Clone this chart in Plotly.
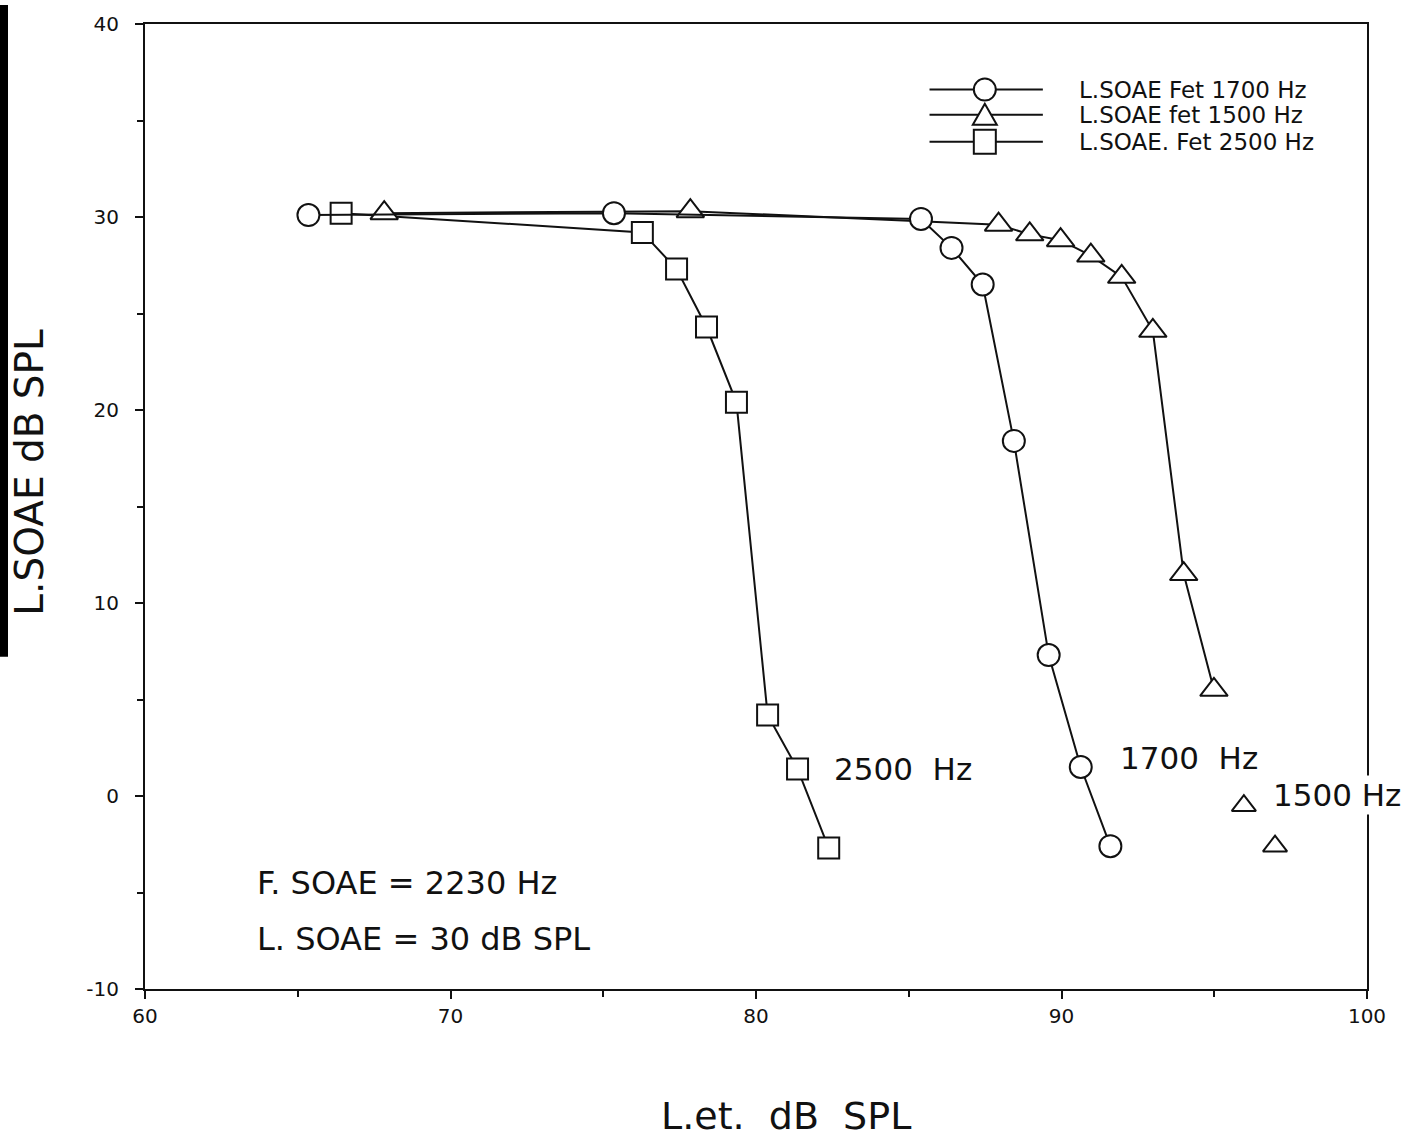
import plotly.graph_objects as go

# ---- data ----
x_1700 = [65.35, 75.35, 85.4, 86.4, 87.42, 88.44, 89.58, 90.63, 91.6]
y_1700 = [30.1, 30.2, 29.9, 28.4, 26.5, 18.4, 7.3, 1.5, -2.6]

x_1500 = [67.83, 77.85, 87.94, 88.96, 89.97, 90.96, 91.97, 92.99, 94.0, 94.99]
y_1500 = [30.2, 30.3, 29.6, 29.1, 28.8, 28.0, 26.9, 24.1, 11.5, 5.5]
x_1500_tail = [95.97, 96.99]
y_1500_tail = [-0.5, -2.6]

x_2500 = [66.42, 76.28, 77.4, 78.38, 79.36, 80.38, 81.36, 82.38]
y_2500 = [30.2, 29.2, 27.3, 24.3, 20.4, 4.2, 1.4, -2.7]

legend_names = ["L.SOAE Fet 1700 Hz", "L.SOAE fet 1500 Hz", "L.SOAE. Fet 2500 Hz"]
x_ticks = [60, 70, 80, 90, 100]
y_ticks = [-10, 0, 10, 20, 30, 40]

FONT = "DejaVu Sans, Liberation Sans, Arial, sans-serif"
BLACK = "#111111"

W, H = 1406, 1140
L, R, T, B = 145, 39, 19, 151
PW, PH = W - L - R, H - T - B

def mk(symbol, size):
    return dict(symbol=symbol, size=size, color="white",
                line=dict(color=BLACK, width=2))

fig = go.Figure()
fig.add_trace(go.Scatter(x=x_2500, y=y_2500, mode="lines+markers",
                         line=dict(color=BLACK, width=2), marker=mk("square", 21),
                         name=legend_names[2], showlegend=False))
fig.add_trace(go.Scatter(x=x_1500, y=y_1500, mode="lines+markers",
                         line=dict(color=BLACK, width=2), marker=mk("triangle-up", 24),
                         name=legend_names[1], showlegend=False))
fig.add_trace(go.Scatter(x=x_1500_tail, y=y_1500_tail, mode="markers",
                         marker=mk("triangle-up", 21), showlegend=False))
fig.add_trace(go.Scatter(x=x_1700, y=y_1700, mode="lines+markers",
                         line=dict(color=BLACK, width=2), marker=mk("circle", 22),
                         name=legend_names[0], showlegend=False))

# ---- custom legend (line + symbol + text) ----
shapes = []
annotations = []
leg_x0, leg_x1, leg_xm, leg_xt = 85.68, 89.39, 87.49, 90.5
leg_rows = [(36.6, "circle"), (35.3, "triangle"), (33.9, "square")]
for (yy, kind), name in zip(leg_rows, legend_names):
    shapes.append(dict(type="line", x0=leg_x0, x1=leg_x1, y0=yy, y1=yy,
                       xref="x", yref="y", line=dict(color=BLACK, width=2)))
    common = dict(xref="x", yref="y", xsizemode="pixel", ysizemode="pixel",
                  xanchor=leg_xm, yanchor=yy, fillcolor="white",
                  line=dict(color=BLACK, width=2))
    if kind == "circle":
        shapes.append(dict(type="circle", x0=-11, x1=11, y0=-11, y1=11, **common))
    elif kind == "square":
        shapes.append(dict(type="rect", x0=-11, x1=11, y0=-12, y1=12, **common))
    else:
        shapes.append(dict(type="path", path="M -12 -10 L 12 -10 L 0 11 Z", **common))
    annotations.append(dict(x=leg_xt, y=yy, xref="x", yref="y", text=name,
                            showarrow=False, xanchor="left", yanchor="middle",
                            font=dict(family=FONT, size=23, color=BLACK)))

# scanning artifact bar on the left edge
shapes.append(dict(type="rect", xref="paper", yref="paper",
                   x0=-L / PW, x1=(8 - L) / PW, y0=(H - B - 655) / PH, y1=1 + T / PH,
                   fillcolor="black", line=dict(width=0)))

# curve labels
for txt, xx, yy in [("2500  Hz", 82.5, 1.4), ("1700  Hz", 91.84, 1.96)]:
    annotations.append(dict(x=xx, y=yy, xref="x", yref="y", text=txt, showarrow=False,
                            xanchor="left", yanchor="middle",
                            font=dict(family=FONT, size=31, color=BLACK)))
annotations.append(dict(x=96.85, y=0.05, xref="x", yref="y", text="1500 Hz", showarrow=False,
                        xanchor="left", yanchor="middle", bgcolor="white",
                        font=dict(family=FONT, size=31, color=BLACK)))
annotations.append(dict(x=63.6, y=-4.5, xref="x", yref="y", text="F. SOAE = 2230 Hz",
                        showarrow=False, xanchor="left", yanchor="middle",
                        font=dict(family=FONT, size=32, color=BLACK)))
annotations.append(dict(x=63.6, y=-7.4, xref="x", yref="y", text="L. SOAE = 30 dB SPL",
                        showarrow=False, xanchor="left", yanchor="middle",
                        font=dict(family=FONT, size=32, color=BLACK)))

# axis titles
annotations.append(dict(x=(786 - L) / PW, y=(H - B - 1117) / PH, xref="paper", yref="paper",
                        text="L.et.  dB  SPL", showarrow=False, xanchor="center",
                        yanchor="middle", font=dict(family=FONT, size=38, color=BLACK)))
annotations.append(dict(x=(30 - L) / PW, y=(H - B - 470) / PH, xref="paper", yref="paper",
                        text="L.SOAE dB SPL", showarrow=False, textangle=-90,
                        xanchor="center", yanchor="middle",
                        font=dict(family=FONT, size=39, color=BLACK)))

axis_common = dict(showgrid=False, zeroline=False, showline=True, linecolor=BLACK,
                   linewidth=2, mirror=True, ticks="outside", ticklen=8, tickwidth=2,
                   tickcolor=BLACK, tickfont=dict(family=FONT, size=20, color=BLACK))

fig.update_layout(
    width=W, height=H,
    margin=dict(l=L, r=R, t=T, b=B),
    paper_bgcolor="white", plot_bgcolor="white",
    xaxis=dict(range=[60, 100], tickvals=x_ticks, ticktext=[str(v) for v in x_ticks],
               ticklabelstandoff=0,
               minor=dict(tickvals=[65, 75, 85, 95], ticks="outside", ticklen=6,
                          tickwidth=1.5, tickcolor=BLACK),
               **axis_common),
    yaxis=dict(range=[-10, 40], tickvals=y_ticks, ticktext=[str(v) for v in y_ticks],
               ticklabelstandoff=12,
               minor=dict(tickvals=[-5, 5, 15, 25, 35], ticks="outside", ticklen=6,
                          tickwidth=1.5, tickcolor=BLACK),
               **axis_common),
    shapes=shapes, annotations=annotations, showlegend=False,
)

fig.write_html("out.html", config={"displayModeBar": False},
               post_script="document.body.style.margin='0';document.body.style.padding='0';")
